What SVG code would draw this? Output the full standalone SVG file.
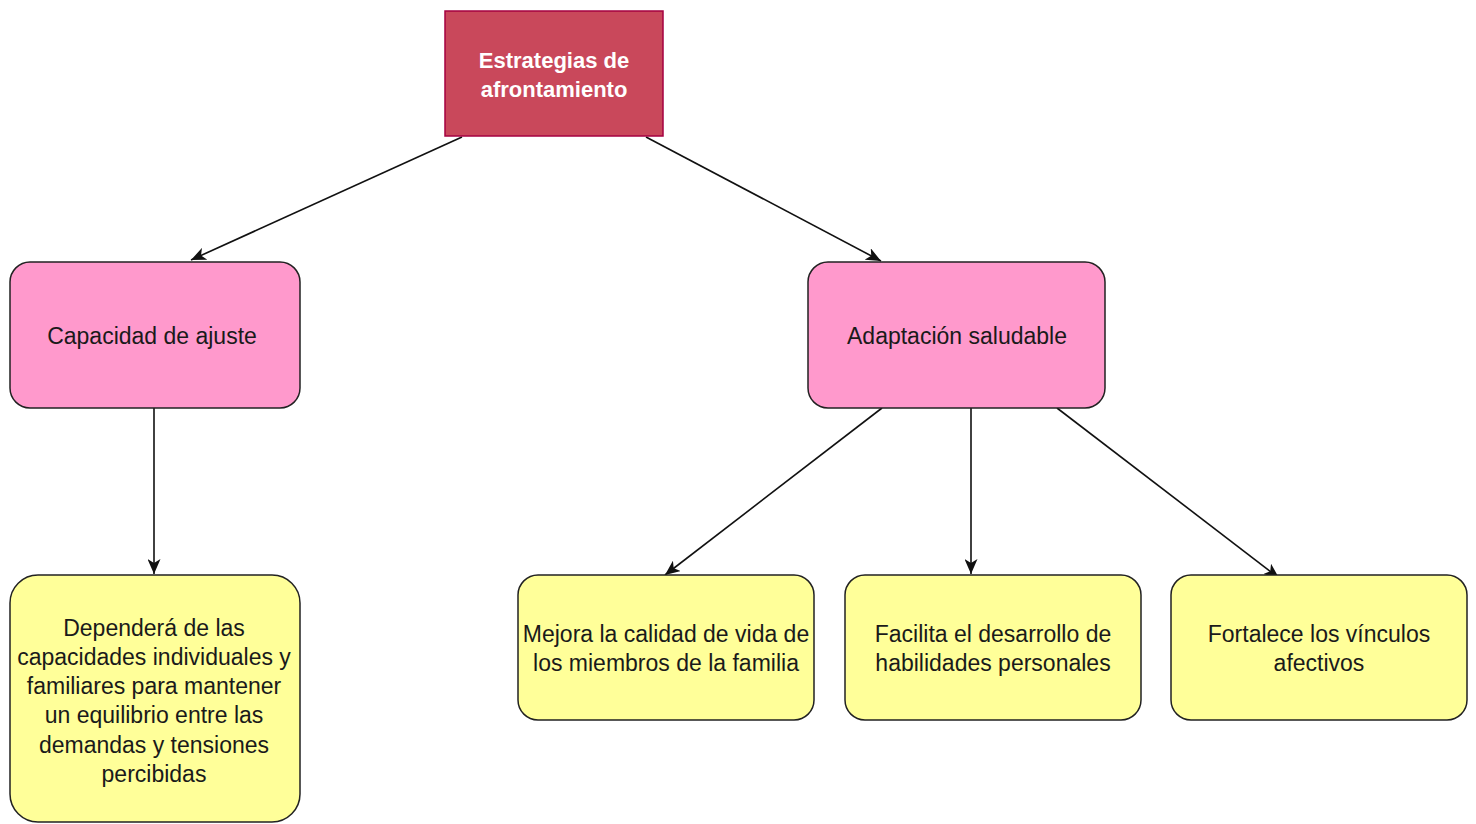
<svg xmlns="http://www.w3.org/2000/svg" width="1476" height="824" viewBox="0 0 1476 824">
<style>
.root{fill:#C9485B;stroke:#A50040;stroke-width:1.5}
.pink{fill:#FF99CC;stroke:#222;stroke-width:1.5}
.yellow{fill:#FFFF99;stroke:#222;stroke-width:1.5}
.t{font-family:"Liberation Sans",Arial,sans-serif;font-size:23px;fill:#1a1a1a;text-anchor:middle}
.tw{font-family:"Liberation Sans",Arial,sans-serif;font-size:22px;font-weight:bold;fill:#ffffff;text-anchor:middle}
.edge{fill:none;stroke:#111;stroke-width:1.6}
</style>
<defs>
<marker id="arr" markerUnits="userSpaceOnUse" markerWidth="16" markerHeight="13" viewBox="0 0 16 13" refX="15" refY="6.5" orient="auto">
<path d="M0,0 L15,6.5 L0,13 L4,6.5 Z" fill="#111"/>
</marker>
</defs>
<rect width="1476" height="824" fill="#ffffff"/>
<g id="connectors">
<line class="edge" x1="462" y1="137" x2="191" y2="260" marker-end="url(#arr)"/>
<line class="edge" x1="646" y1="137" x2="881" y2="261" marker-end="url(#arr)"/>
<line class="edge" x1="154" y1="408" x2="154" y2="574" marker-end="url(#arr)"/>
<line class="edge" x1="882" y1="408" x2="665" y2="575" marker-end="url(#arr)"/>
<line class="edge" x1="971" y1="408" x2="971" y2="574" marker-end="url(#arr)"/>
<line class="edge" x1="1057" y1="408" x2="1279" y2="578" marker-end="url(#arr)"/>
</g>
<g id="node-estrategias">
<rect class="root" x="445" y="11" width="218" height="125"/>
<text class="tw" x="554" y="68">Estrategias de</text>
<text class="tw" x="554" y="97">afrontamiento</text>
</g>
<g id="node-capacidad">
<rect class="pink" x="10" y="262" width="290" height="146" rx="20"/>
<text class="t" x="152" y="344">Capacidad de ajuste</text>
</g>
<g id="node-adaptacion">
<rect class="pink" x="808" y="262" width="297" height="146" rx="20"/>
<text class="t" x="957" y="344">Adaptación saludable</text>
</g>
<g id="node-dependera">
<rect class="yellow" x="10" y="575" width="290" height="247" rx="28"/>
<text class="t" x="154" y="636">Dependerá de las</text>
<text class="t" x="154" y="665">capacidades individuales y</text>
<text class="t" x="154" y="694">familiares para mantener</text>
<text class="t" x="154" y="723">un equilibrio entre las</text>
<text class="t" x="154" y="753">demandas y tensiones</text>
<text class="t" x="154" y="782">percibidas</text>
</g>
<g id="node-mejora">
<rect class="yellow" x="518" y="575" width="296" height="145" rx="20"/>
<text class="t" x="666" y="642">Mejora la calidad de vida de</text>
<text class="t" x="666" y="671">los miembros de la familia</text>
</g>
<g id="node-facilita">
<rect class="yellow" x="845" y="575" width="296" height="145" rx="20"/>
<text class="t" x="993" y="642">Facilita el desarrollo de</text>
<text class="t" x="993" y="671">habilidades personales</text>
</g>
<g id="node-fortalece">
<rect class="yellow" x="1171" y="575" width="296" height="145" rx="20"/>
<text class="t" x="1319" y="642">Fortalece los vínculos</text>
<text class="t" x="1319" y="671">afectivos</text>
</g>
</svg>
